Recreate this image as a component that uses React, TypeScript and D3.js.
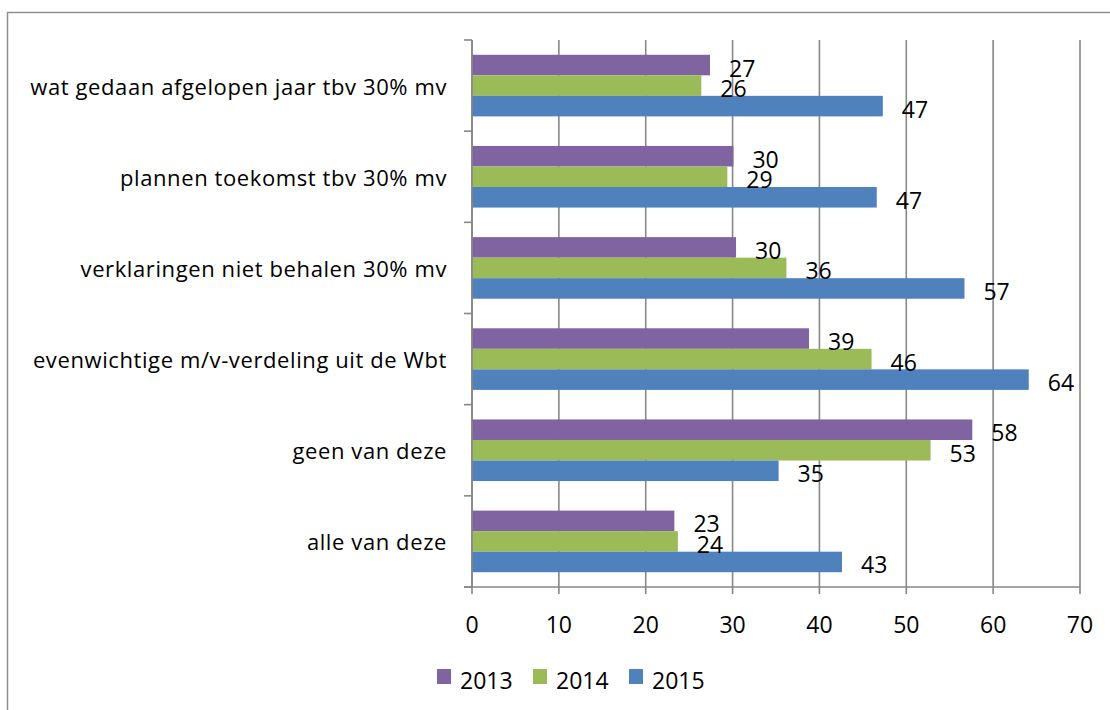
import React from "react";
import * as d3 from "d3";

const categories = [
  "wat gedaan afgelopen jaar tbv 30% mv",
  "plannen toekomst tbv 30% mv",
  "verklaringen niet behalen 30% mv",
  "evenwichtige m/v-verdeling uit de Wbt",
  "geen van deze",
  "alle van deze",
];
const seriesNames = ["2013", "2014", "2015"];
const values2013 = [27.4, 30.1, 30.4, 38.8, 57.6, 23.3];
const values2014 = [26.4, 29.4, 36.2, 46.0, 52.8, 23.7];
const values2015 = [47.3, 46.6, 56.7, 64.1, 35.3, 42.6];
const xTicks = [0, 10, 20, 30, 40, 50, 60, 70];
const colors = ["#8064A2", "#9BBB59", "#4F81BD"];

const seriesValues = [values2013, values2014, values2015];

const FONT = "'Open Sans', 'Noto Sans', sans-serif";

export default function App() {
  const W = 1110, H = 710;
  const left = 472, right = 1080, top = 40, bottom = 587;
  const x = d3.scaleLinear().domain([0, 70]).range([left, right]);
  const y = d3.scaleBand<string>().domain(categories).range([top, bottom]).padding(0);
  const inner = d3.scaleBand<string>().domain(seriesNames).range([0, y.bandwidth()]).paddingInner(0).paddingOuter(0.72);
  const fmt = d3.format(".0f");
  const grid = "#878787";
  const boundaries = [...categories.map((c) => y(c) as number), bottom];

  return (
    <svg width={W} height={H} style={{ position: "absolute", left: 0, top: 0, background: "#fff" }} fontFamily={FONT}>
      <rect x={0} y={0} width={W} height={H} fill="#fff" />
      {/* chart frame */}
      <rect x={7.5} y={12.5} width={1300} height={900} fill="none" stroke="#8f8f8f" strokeWidth={1.5} />
      {/* gridlines */}
      {xTicks.map((t) => (
        <line key={"g" + t} x1={x(t)} x2={x(t)} y1={top} y2={bottom} stroke={grid} strokeWidth={1.6} />
      ))}
      {/* bars */}
      {categories.map((c, ci) =>
        seriesNames.map((s, si) => {
          const v = seriesValues[si][ci];
          const by = (y(c) as number) + (inner(s) as number);
          return (
            <rect key={c + s} x={x(0)} y={by} width={x(v) - x(0)} height={inner.bandwidth()} fill={colors[si]} />
          );
        })
      )}
      {/* category axis */}
      <line x1={left} x2={left} y1={top} y2={bottom} stroke={grid} strokeWidth={1.6} />
      {boundaries.map((b, i) => (
        <line key={"ct" + i} x1={left - 8} x2={left} y1={b} y2={b} stroke={grid} strokeWidth={1.6} />
      ))}
      {/* value axis */}
      <line x1={left - 8} x2={right} y1={bottom} y2={bottom} stroke={grid} strokeWidth={1.6} />
      {xTicks.map((t) => (
        <line key={"xt" + t} x1={x(t)} x2={x(t)} y1={bottom} y2={bottom + 7} stroke={grid} strokeWidth={1.6} />
      ))}
      {xTicks.map((t) => (
        <text key={"xl" + t} x={x(t)} y={633} textAnchor="middle" fontSize={23} fill="#000">
          {t}
        </text>
      ))}
      {/* category labels */}
      {categories.map((c) => (
        <text key={"cl" + c} x={447} y={(y(c) as number) + y.bandwidth() / 2 + 9} textAnchor="end" fontSize={22} letterSpacing={0.6} fill="#000">
          {c}
        </text>
      ))}
      {/* value labels */}
      {categories.map((c, ci) =>
        seriesNames.map((s, si) => {
          const v = seriesValues[si][ci];
          const cy = (y(c) as number) + (inner(s) as number) + inner.bandwidth() / 2;
          return (
            <text key={"vl" + c + s} x={x(v) + 19} y={cy + 11.5} fontSize={23} fill="#000">
              {fmt(v)}
            </text>
          );
        })
      )}
      {/* legend */}
      {seriesNames.map((s, i) => (
        <g key={"lg" + s} transform={`translate(${437 + i * 96},0)`}>
          <rect x={0} y={669} width={14} height={15} fill={colors[i]} />
          <text x={23} y={689} fontSize={23} fill="#000">
            {s}
          </text>
        </g>
      ))}
    </svg>
  );
}
